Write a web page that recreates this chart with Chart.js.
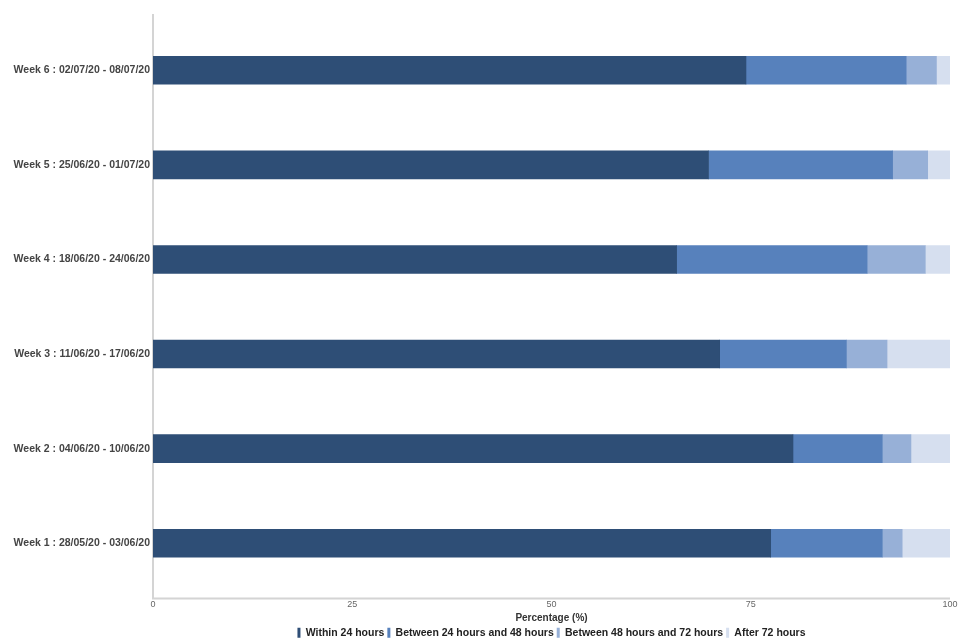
<!DOCTYPE html>
<html>
<head>
<meta charset="utf-8">
<style>
  html, body { margin: 0; padding: 0; background: #ffffff; }
  #wrap { width: 960px; height: 640px; }
</style>
<script src="https://cdn.jsdelivr.net/npm/chart.js@4/dist/chart.umd.min.js"></script>
</head>
<body>
<div id="wrap"><canvas id="c" width="960" height="640"></canvas></div>
<script>
const categories = [
  "Week 1 : 28/05/20 - 03/06/20",
  "Week 2 : 04/06/20 - 10/06/20",
  "Week 3 : 11/06/20 - 17/06/20",
  "Week 4 : 18/06/20 - 24/06/20",
  "Week 5 : 25/06/20 - 01/07/20",
  "Week 6 : 02/07/20 - 08/07/20"
];
const within24 = [77.5, 80.3, 71.1, 65.7, 69.7, 74.4];
const between24and48 = [14.0, 11.2, 15.9, 23.9, 23.1, 20.1];
const between48and72 = [2.5, 3.6, 5.1, 7.3, 4.4, 3.8];
const after72 = [6.0, 4.9, 7.9, 3.1, 2.8, 1.7];
const seriesNames = ["Within 24 hours", "Between 24 hours and 48 hours", "Between 48 hours and 72 hours", "After 72 hours"];
const xTicks = [0, 25, 50, 75, 100];

const colors = ["#2E4E76", "#5781BC", "#97B0D7", "#D6DFEF"];
const seriesData = [within24, between24and48, between48and72, after72];

const axisLines = {
  id: 'axisLines',
  beforeDatasetsDraw(chart) {
    const a = chart.chartArea, ctx = chart.ctx;
    ctx.save();
    ctx.strokeStyle = '#d4d4d4';
    ctx.lineWidth = 2;
    ctx.beginPath();
    ctx.moveTo(a.left, a.top - 9);
    ctx.lineTo(a.left, a.bottom + 8);
    ctx.lineTo(a.right, a.bottom + 8);
    ctx.stroke();
    ctx.restore();
  }
};

new Chart(document.getElementById('c'), {
  type: 'bar',
  data: {
    labels: categories,
    datasets: seriesData.map((d, i) => ({
      label: seriesNames[i],
      data: d,
      backgroundColor: colors[i],
      borderWidth: 0,
      barThickness: 28
    }))
  },
  options: {
    responsive: false,
    animation: false,
    indexAxis: 'y',
    layout: { padding: { top: 23, right: 10, left: 0, bottom: -8 } },
    scales: {
      x: {
        stacked: true,
        min: 0,
        max: 100,
        grid: { display: false, drawTicks: false },
        border: { display: false },
        afterBuildTicks(scale) { scale.ticks = xTicks.map(v => ({ value: v })); },
        ticks: {
          color: '#666666',
          font: { family: 'Liberation Sans', size: 9 },
          padding: 9
        },
        title: {
          display: true,
          text: 'Percentage (%)',
          color: '#333333',
          font: { family: 'Liberation Sans', size: 10, weight: 'bold' },
          padding: { top: 4, bottom: 0 }
        },
        afterFit(scale) { scale.height = 34; scale.paddingRight = 0; }
      },
      y: {
        stacked: true,
        reverse: true,
        grid: { display: false, drawTicks: false },
        border: { display: false },
        ticks: {
          color: '#444444',
          font: { family: 'Liberation Sans', size: 10.5, weight: 'bold' },
          padding: 3
        },
        afterFit(scale) { scale.width = 153; }
      }
    },
    plugins: {
      legend: {
        position: 'bottom',
        fullSize: false,
        labels: {
          boxWidth: 3,
          boxHeight: 10,
          padding: 3,
          color: '#222222',
          font: { family: 'Liberation Sans', size: 10.5, weight: 'bold' }
        }
      },
      tooltip: { enabled: false },
      title: { display: false }
    }
  },
  plugins: [axisLines]
});
</script>
</body>
</html>
